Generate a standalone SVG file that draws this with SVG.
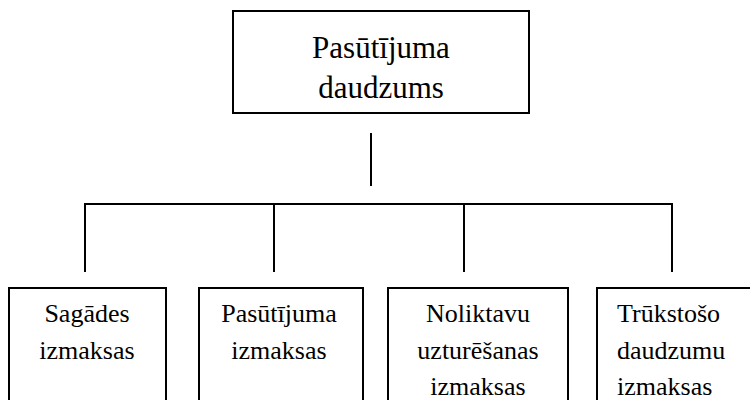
<svg xmlns="http://www.w3.org/2000/svg" width="750" height="400" viewBox="0 0 750 400">
  <rect width="750" height="400" fill="#ffffff"/>

  <!-- tree connectors -->
  <g id="connectors" fill="none" stroke="#000000" stroke-width="2">
    <line x1="371" y1="133" x2="371" y2="186"/>
    <polyline points="85,272 85,204 672,204 672,272"/>
    <line x1="274" y1="204" x2="274" y2="272"/>
    <line x1="464" y1="204" x2="464" y2="272"/>
  </g>

  <g id="root">
    <rect x="233" y="11" width="296" height="102" fill="#ffffff" stroke="#000000" stroke-width="2"/>
    <text x="381" y="58" font-family="Liberation Serif" font-size="31" text-anchor="middle">Pasūtījuma</text>
    <text x="381" y="98" font-family="Liberation Serif" font-size="31" text-anchor="middle">daudzums</text>
  </g>

  <g id="sagades">
    <rect x="9" y="288" width="157" height="130" fill="#ffffff" stroke="#000000" stroke-width="2"/>
    <text x="87" y="322" font-family="Liberation Serif" font-size="26" text-anchor="middle">Sagādes</text>
    <text x="87" y="359" font-family="Liberation Serif" font-size="26" text-anchor="middle">izmaksas</text>
  </g>

  <g id="pasutijuma">
    <rect x="199" y="288" width="164" height="130" fill="#ffffff" stroke="#000000" stroke-width="2"/>
    <text x="279" y="322" font-family="Liberation Serif" font-size="26" text-anchor="middle">Pasūtījuma</text>
    <text x="279" y="359" font-family="Liberation Serif" font-size="26" text-anchor="middle">izmaksas</text>
  </g>

  <g id="noliktavu">
    <rect x="388" y="288" width="180" height="130" fill="#ffffff" stroke="#000000" stroke-width="2"/>
    <text x="478" y="322" font-family="Liberation Serif" font-size="26" text-anchor="middle">Noliktavu</text>
    <text x="478" y="359" font-family="Liberation Serif" font-size="26" text-anchor="middle">uzturēšanas</text>
    <text x="478" y="395" font-family="Liberation Serif" font-size="26" text-anchor="middle">izmaksas</text>
  </g>

  <g id="trukstoso">
    <rect x="597" y="288" width="170" height="130" fill="#ffffff" stroke="#000000" stroke-width="2"/>
    <text x="617" y="322" font-family="Liberation Serif" font-size="26">Trūkstošo</text>
    <text x="617" y="359" font-family="Liberation Serif" font-size="26">daudzumu</text>
    <text x="617" y="395" font-family="Liberation Serif" font-size="26">izmaksas</text>
  </g>
</svg>
